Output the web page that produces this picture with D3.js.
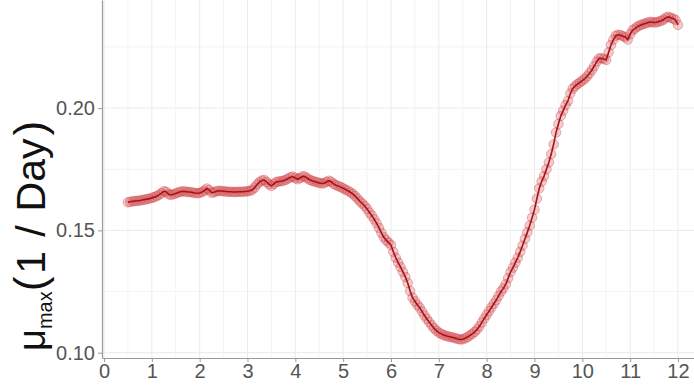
<!DOCTYPE html>
<html>
<head>
<meta charset="utf-8">
<script src="https://cdn.jsdelivr.net/npm/d3@7"></script>
<style>
  body { margin: 0; background: #fff; }
  svg { display: block; }
</style>
</head>
<body>
<script>
/////////////////////////////////////////////////
// data /////////////////////////////////////////
/////////////////////////////////////////////////

// max growth rate, one value every 0.05 from 0.5 to 12
const muMax = [
  0.1615, 0.1617, 0.1619, 0.162, 0.1621, 0.1622, 0.1624, 0.1626, 0.1628, 0.163,
  0.1633, 0.1636, 0.164, 0.1645, 0.1652, 0.166, 0.1658, 0.1648, 0.1645, 0.1648,
  0.1651, 0.1655, 0.1658, 0.166, 0.1659, 0.1657, 0.1657, 0.1655, 0.1653, 0.1652,
  0.1653, 0.1657, 0.1663, 0.1671, 0.1665, 0.1654, 0.1656, 0.166, 0.1662, 0.1661,
  0.166, 0.1659, 0.1658, 0.1658, 0.1657, 0.1657, 0.1658, 0.1658, 0.1658, 0.1659,
  0.166, 0.1662, 0.1666, 0.1675, 0.1688, 0.1697, 0.1704, 0.1706, 0.1698, 0.1688,
  0.1682, 0.169, 0.1698, 0.17, 0.1701, 0.1703, 0.1707, 0.1712, 0.1717, 0.172,
  0.1714, 0.1709, 0.1714, 0.1721, 0.172, 0.1713, 0.1707, 0.1703, 0.17, 0.1697,
  0.1694, 0.1692, 0.1693, 0.1698, 0.1703, 0.1699, 0.169, 0.1685, 0.1681, 0.1677,
  0.1672, 0.1667, 0.1662, 0.1656, 0.1649, 0.164, 0.163, 0.1619, 0.161, 0.16,
  0.1588, 0.1573, 0.156, 0.1545, 0.1529, 0.151, 0.149, 0.1472, 0.146, 0.145,
  0.144, 0.1412, 0.1388, 0.1368, 0.135, 0.133, 0.131, 0.1285, 0.1252, 0.1225,
  0.121, 0.1196, 0.1184, 0.1168, 0.1152, 0.1138, 0.1125, 0.1112, 0.11, 0.109,
  0.1082, 0.1077, 0.1072, 0.1069, 0.1066, 0.1064, 0.1062, 0.1059, 0.1056, 0.1054,
  0.1055, 0.1059, 0.1064, 0.1071, 0.1077, 0.1085, 0.1095, 0.1108, 0.1124, 0.114,
  0.1155, 0.117, 0.1185, 0.12, 0.1215, 0.1232, 0.125, 0.1263, 0.128, 0.1305,
  0.133, 0.1348, 0.1368, 0.1388, 0.1412, 0.1438, 0.1465, 0.1492, 0.152, 0.1552,
  0.1585, 0.163, 0.1672, 0.17, 0.1722, 0.175, 0.1778, 0.1812, 0.1852, 0.19,
  0.1935, 0.1968, 0.199, 0.2012, 0.203, 0.206, 0.208, 0.209, 0.2098, 0.2105,
  0.2112, 0.212, 0.213, 0.2142, 0.2156, 0.2172, 0.219, 0.2203, 0.2204, 0.2201,
  0.2197, 0.2228, 0.2258, 0.228, 0.2296, 0.23, 0.2298, 0.2294, 0.229, 0.228,
  0.2302, 0.2318, 0.2325, 0.2333, 0.2338, 0.2342, 0.2345, 0.2348, 0.2352, 0.2352,
  0.235, 0.2351, 0.2354, 0.2357, 0.2362, 0.237, 0.2373, 0.2369, 0.2366, 0.236,
  0.234
];

// day of the cycle for each value
const days = muMax.map((_, i) => 0.5 + i * 0.05);

const xTicks = d3.range(0, 13);
const yTicks = [0.1, 0.15, 0.2];
const xMinor = d3.range(0.5, 12.5, 1);
const yMinor = [0.125, 0.175, 0.225];

const points = days.map((d, i) => ({ day: d, mu: muMax[i] }));

/////////////////////////////////////////////////
// layout ///////////////////////////////////////
/////////////////////////////////////////////////

const width = 694,
  height = 385;
// panel edges (window.top is taken, so prefix them)
const pLeft = 102,
  pRight = 694,
  pTop = 0,
  pBottom = 358;

const svg = d3
  .select("body")
  .append("svg")
  .attr("width", width)
  .attr("height", height);

/////////////////////////////////////////////////
// scales ///////////////////////////////////////
/////////////////////////////////////////////////

const x = d3.scaleLinear().domain([-0.0418, 12.335]).range([pLeft, pRight]);
const y = d3.scaleLinear().domain([0.09783, 0.2442]).range([pBottom, pTop]);

/////////////////////////////////////////////////
// grid /////////////////////////////////////////
/////////////////////////////////////////////////

const grid = svg.append("g");

grid
  .selectAll(".vmin")
  .data(xMinor)
  .join("line")
  .attr("x1", (d) => x(d))
  .attr("x2", (d) => x(d))
  .attr("y1", pTop)
  .attr("y2", pBottom)
  .attr("stroke", "#f4f4f4");

grid
  .selectAll(".hmin")
  .data(yMinor)
  .join("line")
  .attr("x1", pLeft)
  .attr("x2", pRight)
  .attr("y1", (d) => y(d))
  .attr("y2", (d) => y(d))
  .attr("stroke", "#f4f4f4");

grid
  .selectAll(".vmaj")
  .data(xTicks)
  .join("line")
  .attr("x1", (d) => x(d))
  .attr("x2", (d) => x(d))
  .attr("y1", pTop)
  .attr("y2", pBottom)
  .attr("stroke", "#ebebeb");

grid
  .selectAll(".hmaj")
  .data(yTicks)
  .join("line")
  .attr("x1", pLeft)
  .attr("x2", pRight)
  .attr("y1", (d) => y(d))
  .attr("y2", (d) => y(d))
  .attr("stroke", "#ebebeb");

/////////////////////////////////////////////////
// marks ////////////////////////////////////////
/////////////////////////////////////////////////

svg
  .append("g")
  .selectAll("circle")
  .data(points)
  .join("circle")
  .attr("cx", (d) => x(d.day))
  .attr("cy", (d) => y(d.mu))
  .attr("r", 4.8)
  .attr("fill", "rgba(212, 75, 80, 0.28)")
  .attr("stroke", "rgba(200, 40, 45, 0.33)")
  .attr("stroke-width", 1);

const line = d3
  .line()
  .x((d) => x(d.day))
  .y((d) => y(d.mu));

svg
  .append("path")
  .datum(points)
  .attr("d", line)
  .attr("fill", "none")
  .attr("stroke", "#a3141a")
  .attr("stroke-width", 1.6);

/////////////////////////////////////////////////
// axes /////////////////////////////////////////
/////////////////////////////////////////////////

const xAxis = svg
  .append("g")
  .attr("transform", `translate(0,${pBottom})`)
  .call(d3.axisBottom(x).tickValues(xTicks).tickSize(4).tickPadding(2).tickSizeOuter(0));

const yAxis = svg
  .append("g")
  .attr("transform", `translate(${pLeft},0)`)
  .call(
    d3
      .axisLeft(y)
      .tickValues(yTicks)
      .tickSize(4)
      .tickPadding(3)
      .tickSizeOuter(0)
      .tickFormat(d3.format(".2f"))
  );

[xAxis, yAxis].forEach((g) => {
  g.select(".domain").attr("stroke", "#9a9a9a").attr("stroke-width", 1.2);
  g.selectAll(".tick line").attr("stroke", "#9a9a9a");
  g.selectAll(".tick text")
    .attr("fill", "#555")
    .style("font-family", "'Liberation Sans', Arial, sans-serif")
    .style("font-size", "20px");
});

// y label: mu_max (1 / Day), reads bottom to top
const yLabel = svg
  .append("text")
  .attr("transform", `translate(45,351) rotate(-90)`)
  .attr("text-anchor", "start")
  .attr("fill", "#111")
  .style("font-family", "'Liberation Sans', Arial, sans-serif")
  .style("font-size", "38px");

yLabel.append("tspan").text("\u03bc");
yLabel.append("tspan").attr("dy", 7).style("font-size", "20px").text("max");
yLabel.append("tspan").attr("dy", -7).style("font-size", "44px").text("(");
yLabel.append("tspan").attr("dx", 3).style("font-size", "41px").text("1");
yLabel.append("tspan").attr("dx", 14).style("font-size", "41px").text("/");
yLabel.append("tspan").attr("dx", 14).style("font-size", "41px").text("Day");
yLabel.append("tspan").attr("dx", 3).style("font-size", "44px").text(")");
</script>
</body>
</html>
